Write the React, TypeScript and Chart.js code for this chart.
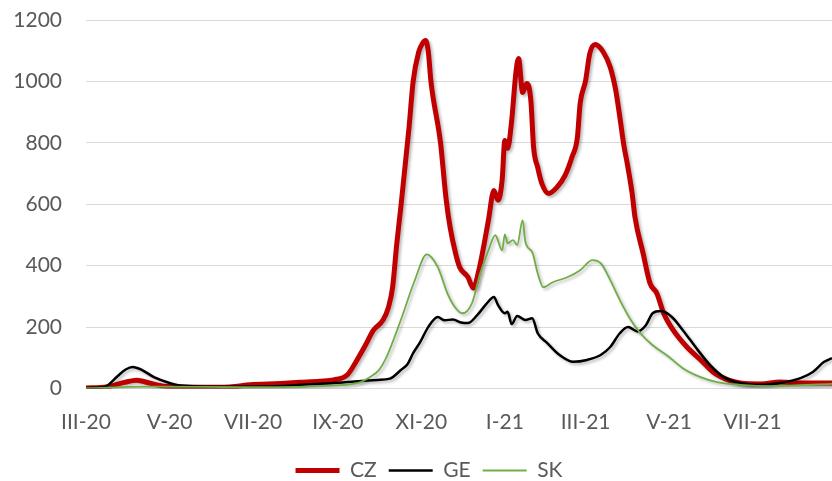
import { useEffect, useRef } from 'react';
import { Chart, registerables } from 'chart.js';

Chart.register(...registerables);

// x values are days counted from 1 March 2020
const xTickDays = [0, 61, 122, 184, 245, 306, 365, 426, 487];
const xTickLabels = ['III-20', 'V-20', 'VII-20', 'IX-20', 'XI-20', 'I-21', 'III-21', 'V-21', 'VII-21'];

const seriesNames = ['CZ', 'GE', 'SK'];

const czDays = [0, 15, 28, 37, 47, 58, 83, 105, 120, 142, 156, 171, 181, 191, 198, 204, 210, 217, 221, 224, 227, 230, 233, 236, 239, 243, 246, 248, 250, 252, 259, 263, 266, 270, 273, 279, 283, 287, 290, 294, 298, 301, 304, 306, 308, 311, 314, 316, 319, 322, 325, 327, 330, 333, 338, 344, 350, 355, 359, 361, 365, 368, 372, 378, 383, 387, 390, 393, 395, 399, 401, 407, 412, 417, 422, 429, 439, 449, 458, 469, 478, 493, 507, 522, 545];
const czValues = [2, 5, 20, 27, 17, 7, 4, 5, 12, 16, 20, 24, 28, 45, 93, 140, 190, 223, 265, 330, 470, 590, 720, 850, 1000, 1095, 1125, 1133, 1100, 1000, 800, 620, 525, 440, 395, 363, 327, 385, 450, 548, 645, 613, 678, 808, 782, 873, 1026, 1075, 964, 993, 938, 785, 720, 668, 635, 655, 694, 753, 818, 928, 1003, 1090, 1120, 1095, 1046, 971, 884, 790, 743, 635, 560, 440, 343, 310, 245, 190, 135, 93, 54, 28, 18, 15, 21, 18, 18];

const geDays = [0, 10, 15, 23, 29, 34, 41, 50, 61, 69, 98, 142, 163, 181, 213, 222, 230, 235, 239, 244, 250, 257, 262, 268, 274, 279, 286, 293, 298, 301, 306, 308, 311, 315, 321, 326, 330, 337, 346, 356, 366, 376, 383, 390, 396, 403, 409, 414, 420, 428, 436, 447, 456, 466, 478, 493, 507, 522, 531, 539, 545];
const geValues = [2, 3, 8, 40, 62, 70, 60, 36, 18, 10, 6, 8, 14, 18, 28, 32, 60, 80, 115, 150, 200, 233, 222, 225, 215, 213, 240, 278, 298, 272, 245, 250, 210, 236, 223, 229, 180, 148, 109, 87, 93, 109, 135, 180, 200, 186, 206, 245, 252, 233, 190, 125, 76, 37, 18, 12, 18, 34, 54, 86, 99];

const skDays = [0, 47, 120, 181, 200, 207, 214, 219, 230, 240, 249, 257, 264, 270, 275, 282, 288, 294, 299, 304, 306, 308, 312, 315, 319, 321, 326, 330, 334, 341, 352, 361, 370, 376, 383, 390, 398, 405, 414, 425, 436, 449, 461, 478, 502, 545];
const skValues = [1, 6, 4, 10, 20, 36, 60, 97, 223, 350, 437, 395, 310, 262, 245, 278, 375, 450, 499, 450, 502, 473, 483, 467, 548, 477, 444, 375, 330, 346, 363, 385, 418, 408, 353, 288, 223, 180, 141, 106, 66, 37, 21, 12, 8, 15];

const toPoints = (days: number[], values: number[]) => days.map((d, i) => ({ x: d, y: values[i] }));

const shadowPlugin = {
  id: 'lineShadow',
  beforeDatasetDraw(chart: any) {
    const c = chart.ctx;
    c.save();
    c.shadowColor = 'rgba(0,0,0,0.28)';
    c.shadowBlur = 3;
    c.shadowOffsetX = 2;
    c.shadowOffsetY = 2;
  },
  afterDatasetDraw(chart: any) {
    chart.ctx.restore();
  },
};

export default function App() {
  const ref = useRef<HTMLCanvasElement | null>(null);

  useEffect(() => {
    if (!ref.current) return;
    const font = { family: 'Lato', size: 21 };
    const textColor = '#595959';
    const chart = new Chart(ref.current, {
      type: 'line',
      data: {
        datasets: [
          {
            label: seriesNames[0],
            data: toPoints(czDays, czValues),
            borderColor: '#C00000',
            backgroundColor: '#C00000',
            borderWidth: 5,
            borderCapStyle: 'round',
            borderJoinStyle: 'round',
            pointRadius: 0,
            cubicInterpolationMode: 'monotone',
            order: 3,
          },
          {
            label: seriesNames[1],
            data: toPoints(geDays, geValues),
            borderColor: '#000000',
            backgroundColor: '#000000',
            borderWidth: 2.5,
            borderJoinStyle: 'round',
            pointRadius: 0,
            cubicInterpolationMode: 'monotone',
            order: 2,
          },
          {
            label: seriesNames[2],
            data: toPoints(skDays, skValues),
            borderColor: '#70AD47',
            backgroundColor: '#70AD47',
            borderWidth: 1.8,
            borderJoinStyle: 'round',
            pointRadius: 0,
            cubicInterpolationMode: 'monotone',
            order: 1,
          },
        ],
      },
      options: {
        animation: false,
        responsive: true,
        maintainAspectRatio: false,
        layout: { padding: { top: 20, left: 0, right: 0, bottom: 0 } },
        plugins: {
          legend: {
            position: 'bottom',
            labels: {
              usePointStyle: true,
              pointStyle: 'line',
              pointStyleWidth: 44,
              font,
              color: textColor,
              padding: 12,
              sort: (a: any, b: any) => a.datasetIndex - b.datasetIndex,
            },
          },
          tooltip: { enabled: false },
        },
        scales: {
          x: {
            type: 'linear',
            min: 0,
            max: 564,
            grid: { display: false },
            border: { display: false },
            afterBuildTicks: (s: any) => {
              s.ticks = xTickDays.map((v) => ({ value: v }));
            },
            afterFit: (s: any) => {
              s.height = 59.5;
              s.paddingLeft = 0;
              s.paddingRight = 0;
            },
            ticks: {
              autoSkip: false,
              maxRotation: 0,
              padding: 13,
              font,
              color: textColor,
              callback: (v: any) => {
                const i = xTickDays.indexOf(Number(v));
                return i >= 0 ? xTickLabels[i] : '';
              },
            },
          },
          y: {
            min: 0,
            max: 1200,
            border: { display: false },
            grid: { color: '#d9d9d9', lineWidth: 1, drawTicks: false },
            afterFit: (s: any) => {
              s.width = 86;
              s.paddingTop = 0;
              s.paddingBottom = 0;
            },
            ticks: {
              stepSize: 200,
              padding: 24,
              font,
              color: textColor,
              callback: (v: any) => String(v),
            },
          },
        },
      },
      plugins: [shadowPlugin],
    } as any);
    return () => chart.destroy();
  }, []);

  return (
    <div style={{ position: 'fixed', left: 0, top: 0, width: 832, height: 481, overflow: 'hidden', background: '#fff' }}>
      <div style={{ position: 'relative', width: 858, height: 491 }}>
        <canvas ref={ref} />
      </div>
    </div>
  );
}
